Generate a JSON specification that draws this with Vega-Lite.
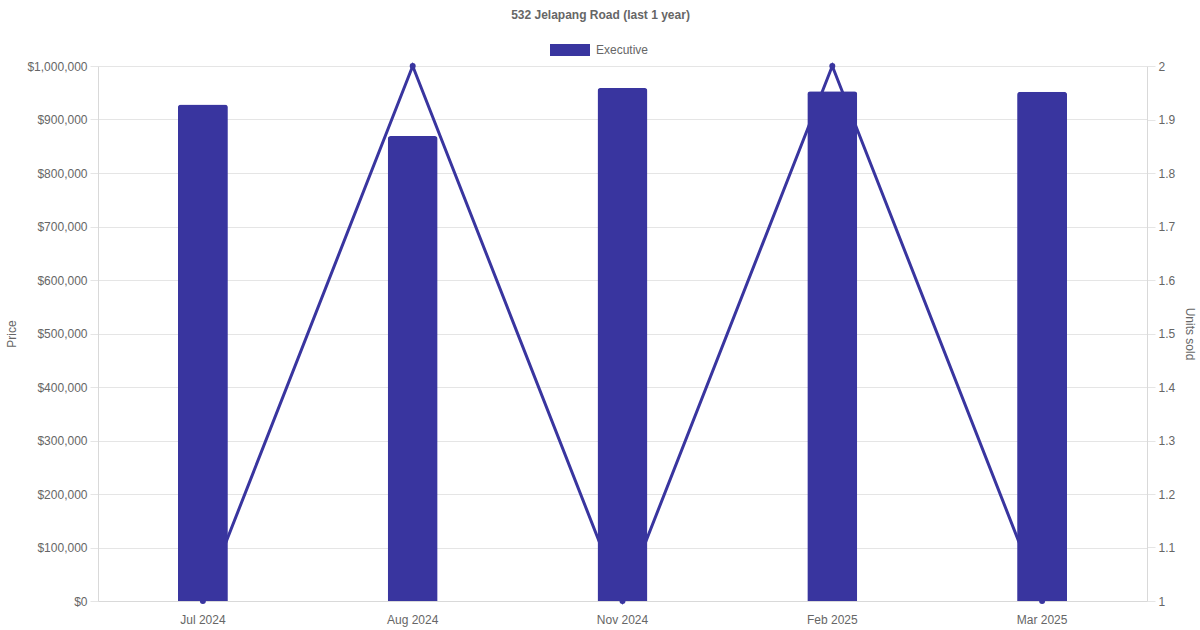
{
  "$schema": "https://vega.github.io/schema/vega-lite/v6.json",
  "width": 1049,
  "height": 535,
  "autosize": "none",
  "padding": {"left": 98, "top": 66, "right": 53, "bottom": 29},
  "title": {
    "text": "532 Jelapang Road (last 1 year)",
    "fontSize": 12,
    "fontWeight": "bold",
    "color": "#666666",
    "anchor": "middle",
    "dx": -22,
    "offset": 8
  },
  "config": {
    "font": "Liberation Sans",
    "view": {"stroke": null},
    "axis": {
      "labelFontSize": 12,
      "labelColor": "#666666",
      "titleFontSize": 12,
      "titleFontWeight": "normal",
      "titleColor": "#666666",
      "gridColor": "#e5e5e5",
      "tickColor": "#e5e5e5",
      "domainColor": "#d9d9d9"
    }
  },
  "data": {
    "values": [
      {"month": "Jul 2024", "price": 928000, "units": 1, "type": "Executive"},
      {"month": "Aug 2024", "price": 869000, "units": 2, "type": "Executive"},
      {"month": "Nov 2024", "price": 959000, "units": 1, "type": "Executive"},
      {"month": "Feb 2025", "price": 953000, "units": 2, "type": "Executive"},
      {"month": "Mar 2025", "price": 952000, "units": 1, "type": "Executive"}
    ]
  },
  "encoding": {
    "x": {
      "field": "month",
      "type": "ordinal",
      "sort": null,
      "scale": {"paddingInner": 0, "paddingOuter": 0},
      "axis": {"title": null, "labelAngle": 0, "ticks": false, "labelPadding": 13, "grid": false}
    }
  },
  "layer": [
    {
      "mark": {
        "type": "line",
        "color": "#39359f",
        "strokeWidth": 3,
        "point": {"filled": true, "size": 36, "color": "#39359f"}
      },
      "encoding": {
        "y": {
          "field": "units",
          "type": "quantitative",
          "scale": {"domain": [1, 2], "nice": false, "zero": false},
          "axis": {
            "orient": "right",
            "title": "Units sold",
            "titleAngle": 90,
            "titlePadding": 8,
            "values": [1, 1.1, 1.2, 1.3, 1.4, 1.5, 1.6, 1.7, 1.8, 1.9, 2],
            "format": "~g",
            "grid": false,
            "tickSize": 8,
            "labelPadding": 3
          }
        }
      }
    },
    {
      "mark": {
        "type": "bar",
        "size": 50,
        "cornerRadiusTopLeft": 3,
        "cornerRadiusTopRight": 3
      },
      "encoding": {
        "y": {
          "field": "price",
          "type": "quantitative",
          "scale": {"domain": [0, 1000000], "nice": false},
          "axis": {
            "orient": "left",
            "title": "Price",
            "titlePadding": 8,
            "values": [0, 100000, 200000, 300000, 400000, 500000, 600000, 700000, 800000, 900000, 1000000],
            "format": "$,.0f",
            "grid": true,
            "tickSize": 8,
            "labelPadding": 3
          }
        },
        "color": {
          "field": "type",
          "type": "nominal",
          "scale": {"domain": ["Executive"], "range": ["#39359f"]},
          "legend": {
            "title": null,
            "orient": "none",
            "legendX": 452,
            "legendY": -36,
            "symbolType": "M-1,-0.3H1V0.3H-1Z",
            "symbolSize": 1600,
            "symbolStrokeWidth": 0,
            "labelFontSize": 12,
            "labelColor": "#666666",
            "labelOffset": 6
          }
        }
      }
    }
  ],
  "resolve": {"scale": {"y": "independent"}}
}
